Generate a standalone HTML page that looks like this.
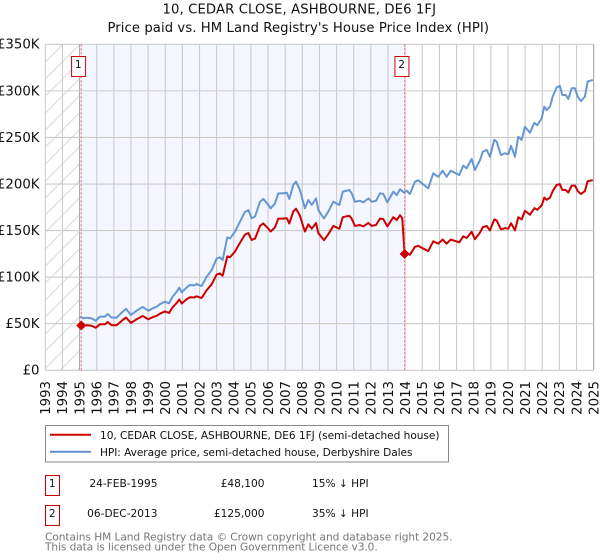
<!DOCTYPE html>
<html lang="en">
<head>
<meta charset="utf-8">
<title>10, CEDAR CLOSE, ASHBOURNE, DE6 1FJ</title>
<style>
html,body{margin:0;padding:0;background:#fff;width:600px;height:560px;overflow:hidden}
svg{display:block;font-family:"DejaVu Sans",sans-serif}
</style>
</head>
<body>
<svg id="chart" width="600" height="560" viewBox="0 0 600 560" xmlns="http://www.w3.org/2000/svg">
<defs>
<pattern id="hatch" patternUnits="userSpaceOnUse" width="17" height="17" patternTransform="translate(5.4 0)">
<line x1="0" y1="17" x2="17" y2="0" stroke="#d8d8d8" stroke-width="1"/>
<line x1="-2" y1="2" x2="2" y2="-2" stroke="#d8d8d8" stroke-width="1"/>
<line x1="15" y1="19" x2="19" y2="15" stroke="#d8d8d8" stroke-width="1"/>
</pattern>
<clipPath id="plot-clip"><rect x="45.3" y="44.3" width="548.5" height="326"/></clipPath>
</defs>
<text x="162.5" y="13.5" font-size="13.2" fill="#111" textLength="273.5" lengthAdjust="spacing">10, CEDAR CLOSE, ASHBOURNE, DE6 1FJ</text>
<text x="107.5" y="32" font-size="13.2" fill="#111" textLength="381.5" lengthAdjust="spacing">Price paid vs. HM Land Registry's House Price Index (HPI)</text>
<g id="plot-bg"></g>
<g id="grid"></g>
<g id="y-axis"></g>
<g id="x-axis"></g>
<g id="series" clip-path="url(#plot-clip)"></g>
<g id="sales"></g>

<g>
<rect x="45.5" y="425.5" width="403" height="36.5" fill="#fff" stroke="#888" stroke-width="1"/>
<line x1="50" y1="434.8" x2="91" y2="434.8" stroke="#cc0000" stroke-width="2"/>
<text x="100" y="439" font-size="10.6" fill="#111" textLength="339.5" lengthAdjust="spacing">10, CEDAR CLOSE, ASHBOURNE, DE6 1FJ (semi-detached house)</text>
<line x1="50" y1="451.8" x2="91" y2="451.8" stroke="#5f90d2" stroke-width="2"/>
<text x="100" y="456" font-size="10.6" fill="#111" textLength="312.5" lengthAdjust="spacing">HPI: Average price, semi-detached house, Derbyshire Dales</text>
</g>

<g font-size="10.6" fill="#111">
<rect x="45.5" y="475.5" width="14" height="20" fill="#fff" stroke="#cc0000" stroke-width="1"/>
<text x="52.3" y="487" text-anchor="middle">1</text>
<text x="157.5" y="487" text-anchor="end">24-FEB-1995</text>
<text x="264.5" y="487" text-anchor="end">£48,100</text>
<text x="312" y="487">15% ↓ HPI</text>
<rect x="45.5" y="505.5" width="14" height="20" fill="#fff" stroke="#cc0000" stroke-width="1"/>
<text x="52.3" y="517" text-anchor="middle">2</text>
<text x="157.5" y="517" text-anchor="end">06-DEC-2013</text>
<text x="264.5" y="517" text-anchor="end">£125,000</text>
<text x="312" y="517">35% ↓ HPI</text>
</g>

<g font-size="10.6" fill="#777">
<text x="45" y="540.5" textLength="407.5" lengthAdjust="spacing">Contains HM Land Registry data © Crown copyright and database right 2025.</text>
<text x="45" y="550.5" textLength="332.7" lengthAdjust="spacing">This data is licensed under the Open Government Licence v3.0.</text>
</g>
</svg>
<script>
const xTicks = [1993,1994,1995,1996,1997,1998,1999,2000,2001,2002,2003,2004,2005,2006,2007,2008,2009,2010,2011,2012,2013,2014,2015,2016,2017,2018,2019,2020,2021,2022,2023,2024,2025];
const yTicks = [0,50,100,150,200,250,300,350];
const yTickLabels = ['£0','£50K','£100K','£150K','£200K','£250K','£300K','£350K'];
const hpiDates = [1995.02,1995.22,1995.41,1995.70,1995.94,1996.19,1996.48,1996.64,1996.87,1997.16,1997.46,1997.71,1998.0,1998.33,1998.68,1999.01,1999.26,1999.5,1999.69,1999.98,2000.22,2000.43,2000.67,2000.82,2000.96,2001.25,2001.44,2001.68,2001.83,2002.12,2002.42,2002.71,2003.0,2003.19,2003.35,2003.62,2003.78,2004.07,2004.36,2004.65,2004.85,2005.04,2005.24,2005.53,2005.72,2006.02,2006.15,2006.4,2006.6,2006.89,2007.09,2007.24,2007.47,2007.63,2007.86,2008.06,2008.15,2008.35,2008.55,2008.8,2008.93,2009.26,2009.51,2009.81,2010.16,2010.36,2010.74,2010.88,2011.07,2011.36,2011.56,2011.85,2012.05,2012.3,2012.53,2012.72,2012.96,2013.31,2013.51,2013.7,2013.95,2014.09,2014.28,2014.57,2014.77,2014.97,2015.35,2015.64,2015.93,2016.19,2016.42,2016.66,2017.16,2017.39,2017.59,2017.88,2018.07,2018.37,2018.53,2018.76,2018.95,2019.2,2019.34,2019.59,2019.82,2020.02,2020.18,2020.41,2020.6,2020.8,2020.99,2021.28,2021.54,2021.71,2021.97,2022.12,2022.26,2022.45,2022.61,2022.84,2023.03,2023.17,2023.37,2023.52,2023.72,2023.91,2024.07,2024.26,2024.49,2024.65,2024.95];
const hpiValues = [57.6,55.8,56.5,55.8,53.3,57.6,57.6,60.5,56.5,56.5,62,66,59.4,64,68,64,66.5,68.3,71,73.7,71.9,79,84.4,88.7,83.7,89,91.6,91.2,92.6,90.5,100.5,107.7,120,121.3,118.4,142.7,141.7,148.8,159.6,170,172,163.4,165,181,184,177.4,173.8,179,190,190,190.7,184,199,202.5,193.6,180,174,182.8,177.5,184.6,172,163,170.3,181,177.5,191.8,193.6,190,181,182,180.3,184.6,181,182,190,189.5,180.3,191.8,188.2,194.3,190.7,192.8,189.3,202.5,204,200.8,195.4,211.5,207.8,214.3,207.8,214.3,209.7,219.7,216.9,227,215,225.8,234.7,236.5,229.3,247.4,245.6,231,233,232,241,229.3,250.8,247.4,261.5,255,265.8,263,270.6,283,279.5,283,293.8,303.8,305.2,295.6,295.6,291.3,302.8,302.8,293.8,289,293.8,310,311.7];
const priceDates = [1995.10,1995.22,1995.41,1995.70,1995.94,1996.19,1996.48,1996.64,1996.87,1997.16,1997.46,1997.71,1998.0,1998.33,1998.68,1999.01,1999.26,1999.5,1999.69,1999.98,2000.22,2000.43,2000.67,2000.82,2000.96,2001.25,2001.44,2001.68,2001.83,2002.12,2002.42,2002.71,2003.0,2003.19,2003.35,2003.62,2003.78,2004.07,2004.36,2004.65,2004.85,2005.04,2005.24,2005.53,2005.72,2006.02,2006.15,2006.4,2006.6,2006.89,2007.09,2007.24,2007.47,2007.63,2007.86,2008.06,2008.15,2008.35,2008.55,2008.8,2008.93,2009.26,2009.51,2009.81,2010.16,2010.36,2010.74,2010.88,2011.07,2011.36,2011.56,2011.85,2012.05,2012.3,2012.53,2012.72,2012.96,2013.31,2013.51,2013.7,2013.83,2013.97,2014.09,2014.28,2014.57,2014.77,2014.97,2015.35,2015.64,2015.93,2016.19,2016.42,2016.66,2017.16,2017.39,2017.59,2017.88,2018.07,2018.37,2018.53,2018.76,2018.95,2019.2,2019.34,2019.59,2019.82,2020.02,2020.18,2020.41,2020.6,2020.8,2020.99,2021.28,2021.54,2021.71,2021.97,2022.12,2022.26,2022.45,2022.61,2022.84,2023.03,2023.17,2023.37,2023.52,2023.72,2023.91,2024.07,2024.26,2024.49,2024.65,2024.95];
const priceValues = [48.1,47.8,48.4,47.8,45.7,49.4,49.4,51.8,48.4,48.4,53.1,56.6,50.9,54.8,58.3,54.8,57,58.5,60.8,63.2,61.6,67.7,72.3,76,71.7,76.3,78.5,78.2,79.4,77.6,86.1,92.3,102.8,104,101.5,122.3,121.4,127.5,136.8,145.7,147.4,140,141.4,155,157.7,152,149,153.4,162.8,162.8,163.4,157.7,170.5,173.5,165.9,154,149,156.7,152,158.2,147.4,139.7,146,155,152,164.4,165.9,162.8,155,156,154.5,158.2,155,156,162.8,162.4,154.5,164.4,161.3,166.5,163.4,125,126.3,124,132.6,133.6,131.5,128,138.5,136,140.4,136,140.4,137.4,143.9,142,148.7,140.8,147.9,153.7,154.9,150.2,162,160.9,151.3,152.6,152,157.9,150.2,164.3,162,171.3,167,174.1,172.3,177.2,185.4,183,185.4,192.4,199,199.9,193.6,193.6,190.8,198.3,198.3,192.4,189.3,192.4,203,204.2];
const saleDates = [1995.10,2013.97];
const salePrices = [48.1,125];
const saleLabels = ['1','2'];

const NS = 'http://www.w3.org/2000/svg';
function xPos(year){ return 45.3 + (year - 1993) * 17.136; }
function yPos(val){ return 370.3 - val * 0.9314; }
function make(tag, attrs, parent){
  const el = document.createElementNS(NS, tag);
  for (const k in attrs) el.setAttribute(k, attrs[k]);
  parent.appendChild(el);
  return el;
}
function pathFrom(dates, values){
  return dates.map((d,i)=>(i?'L':'M')+xPos(d).toFixed(2)+' '+yPos(values[i]).toFixed(2)).join(' ');
}

const bg = document.getElementById('plot-bg');
const top0 = yPos(350), h0 = yPos(0) - yPos(350);
const hatchRect = make('rect',{x:xPos(1993),y:top0,width:xPos(1995)-xPos(1993),height:h0,fill:'url(#hatch)'},bg);


const shadeRect = make('rect',{x:xPos(1995),y:top0,width:xPos(saleDates[1])-xPos(1995),height:h0,fill:'#f4f7ff'},bg);



const grid = document.getElementById('grid');
xTicks.forEach(t=>{
  const edge = (t === 1995 || t === 2025);
  const g = make('line',{x1:xPos(t),x2:xPos(t),y1:top0,y2:yPos(0),stroke:edge?'#a8a8a8':'#cccccc','stroke-width':1.1},grid);
  
  
});
yTicks.forEach(t=>{
  const g = make('line',{x1:xPos(1993),x2:xPos(2025),y1:yPos(t),y2:yPos(t),stroke:'#cccccc','stroke-width':1.1},grid);
  
  
});

const yAxis = document.getElementById('y-axis');
yTicks.forEach((t,i)=>{
  const l = make('text',{x:39.5,y:yPos(t)+4.4,'text-anchor':'end','font-size':13.3,fill:'#111'},yAxis);
  
  
  l.textContent = yTickLabels[i];
});
const xAxis = document.getElementById('x-axis');
xTicks.forEach(t=>{
  const px = xPos(t) + 4.8;
  const l = make('text',{x:px,y:381,'text-anchor':'end','font-size':13.3,fill:'#111',transform:'rotate(-90 '+px+' 381)'},xAxis);
  
  
  l.textContent = String(t);
});

const series = document.getElementById('series');
const hpiLine = make('path',{d:pathFrom(hpiDates,hpiValues),fill:'none',stroke:'#5f90d2','stroke-width':2,'stroke-linejoin':'round','stroke-opacity':0.95},series);


const priceLine = make('path',{d:pathFrom(priceDates,priceValues),fill:'none',stroke:'#cc0000','stroke-width':2,'stroke-linejoin':'round'},series);



const sales = document.getElementById('sales');
saleDates.forEach((d,i)=>{
  const sx = xPos(d), sy = yPos(salePrices[i]);
  const v = make('line',{x1:sx,x2:sx,y1:top0,y2:yPos(0),stroke:'#ee6677','stroke-width':1,'stroke-dasharray':'2 2'},sales);
  
  
  const m = make('path',{d:'M'+sx+' '+(sy-5)+' L'+(sx+5)+' '+sy+' L'+sx+' '+(sy+5)+' L'+(sx-5)+' '+sy+' Z',fill:'#cc0000'},sales);
  
  
  const b = make('rect',{x:sx-9.7,y:56.5,width:14,height:20,fill:'#fff',stroke:'#cc0000','stroke-width':1},sales);
  
  
  const t = make('text',{x:sx-3,y:68,'text-anchor':'middle','font-size':10.6,fill:'#111'},sales);
  
  
  t.textContent = saleLabels[i];
});
</script>
</body>
</html>
